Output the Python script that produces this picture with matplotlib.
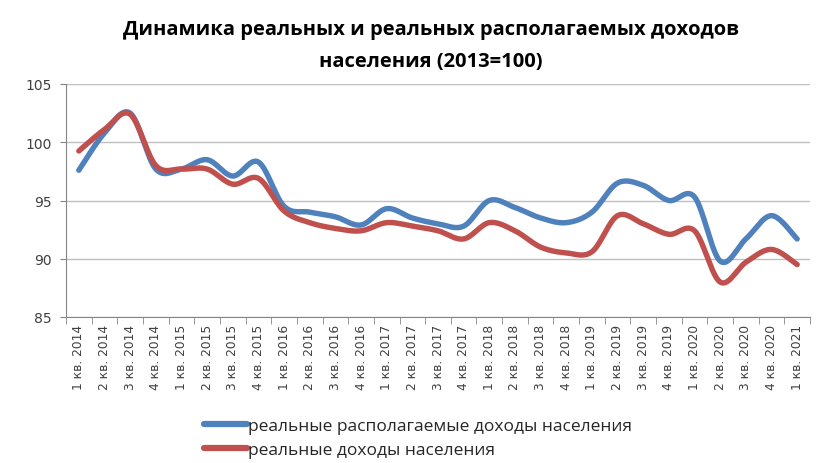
import numpy as np
import matplotlib
matplotlib.use("Agg")
import matplotlib.pyplot as plt
from matplotlib.lines import Line2D

title = "Динамика реальных и реальных располагаемых доходов\nнаселения (2013=100)"
categories = [
    "1 кв. 2014", "2 кв. 2014", "3 кв. 2014", "4 кв. 2014",
    "1 кв. 2015", "2 кв. 2015", "3 кв. 2015", "4 кв. 2015",
    "1 кв. 2016", "2 кв. 2016", "3 кв. 2016", "4 кв. 2016",
    "1 кв. 2017", "2 кв. 2017", "3 кв. 2017", "4 кв. 2017",
    "1 кв. 2018", "2 кв. 2018", "3 кв. 2018", "4 кв. 2018",
    "1 кв. 2019", "2 кв. 2019", "3 кв. 2019", "4 кв. 2019",
    "1 кв. 2020", "2 кв. 2020", "3 кв. 2020", "4 кв. 2020",
    "1 кв. 2021",
]
disposable = [97.6, 100.8, 102.5, 97.7, 97.7, 98.5, 97.1, 98.3,
              94.5, 94.0, 93.6, 92.9, 94.3, 93.5, 93.0, 92.8,
              95.0, 94.4, 93.5, 93.1, 94.0, 96.5, 96.3, 95.0,
              95.3, 89.8, 91.7, 93.7, 91.7]
real = [99.25, 101.1, 102.4, 98.0, 97.7, 97.7, 96.4, 96.9,
        94.1, 93.1, 92.6, 92.4, 93.1, 92.8, 92.4, 91.7,
        93.1, 92.4, 91.0, 90.5, 90.6, 93.7, 93.0, 92.1,
        92.4, 88.0, 89.7, 90.8, 89.5]
label_disp = "реальные располагаемые доходы населения"
label_real = "реальные доходы населения"
yticks = [85, 90, 95, 100, 105]

c_blue = "#4F81BD"
c_red = "#C0504D"


def smooth(x, y, n=30):
    # Excel-like smoothed line (Catmull-Rom via cubic Bezier)
    x = np.asarray(x, float)
    y = np.asarray(y, float)
    P = np.column_stack([x, y])
    m = len(P)
    out = []
    t = np.linspace(0, 1, n)[:, None]
    for i in range(m - 1):
        p0 = P[i - 1] if i > 0 else P[i]
        p1 = P[i]
        p2 = P[i + 1]
        p3 = P[i + 2] if i + 2 < m else P[i + 1]
        c1 = p1 + (p2 - p0) / 6.0
        c2 = p2 - (p3 - p1) / 6.0
        seg = ((1 - t) ** 3) * p1 + 3 * ((1 - t) ** 2) * t * c1 + 3 * (1 - t) * t ** 2 * c2 + t ** 3 * p2
        out.append(seg if i == 0 else seg[1:])
    S = np.vstack(out)
    return S[:, 0], S[:, 1]


fig = plt.figure(figsize=(8.18, 4.64), dpi=100)
ax = fig.add_axes([66 / 818, 1 - 318 / 464, (810 - 66) / 818, (318 - 85) / 464])

xs = np.arange(len(categories))
sx, sy = smooth(xs, disposable)
ax.plot(sx, sy, color=c_blue, lw=3.9, solid_capstyle="round", zorder=3)
sx, sy = smooth(xs, real)
ax.plot(sx, sy, color=c_red, lw=3.9, solid_capstyle="round", zorder=4)

ax.set_xlim(-0.5, len(categories) - 0.5)
ax.set_ylim(85, 105)
ax.set_yticks(yticks)
ax.set_yticklabels([str(v) for v in yticks], fontsize=10, color="#404040")
ax.set_xticks(xs)
ax.set_xticklabels(categories, rotation=90, fontsize=8.8, color="#404040")
ax.set_xticks(np.arange(-0.5, len(categories), 1.0), minor=True)
ax.tick_params(axis="x", which="major", length=0, pad=5)
ax.tick_params(axis="x", which="minor", length=5, color="#868686")
ax.tick_params(axis="y", length=4, color="#868686", pad=6)
ax.grid(axis="y", color="#bfbfbf", lw=1.0)
ax.set_axisbelow(True)
for s in ["top", "right"]:
    ax.spines[s].set_visible(False)
for s in ["left", "bottom"]:
    ax.spines[s].set_color("#868686")

fig.text(431 / 818, 1 - 46 / 464, title, ha="center", va="center",
         fontsize=14.5, fontweight="bold", family=["Open Sans", "DejaVu Sans"],
         linespacing=1.8)

handles = [Line2D([0], [0], color=c_blue, lw=4.5, solid_capstyle="round"),
           Line2D([0], [0], color=c_red, lw=4.5, solid_capstyle="round")]
leg = fig.legend(handles, [label_disp, label_real], loc="upper left",
                 bbox_to_anchor=(192 / 818, 1 - 407 / 464), frameon=False,
                 handlelength=2.45, handletextpad=0.1, labelspacing=0.45,
                 borderpad=0.2,
                 prop={"family": ["Open Sans", "DejaVu Sans"], "size": 12.5})
for t in leg.get_texts():
    t.set_color("#262626")

fig.savefig("out.png", dpi=100)
